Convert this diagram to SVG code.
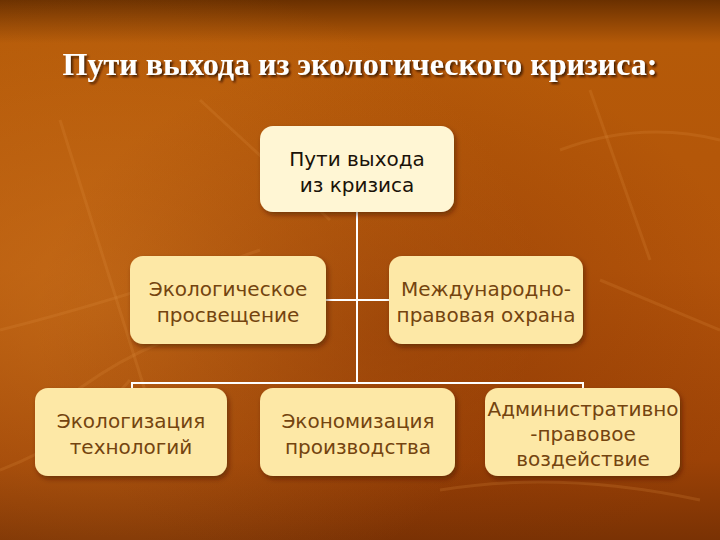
<svg xmlns="http://www.w3.org/2000/svg" width="720" height="540" viewBox="0 0 720 540">
<defs>
<linearGradient id="bgv" x1="0" y1="0" x2="0" y2="1">
<stop offset="0" stop-color="#6a3000"/>
<stop offset="0.08" stop-color="#b55a08"/>
<stop offset="0.5" stop-color="#b3540a"/>
<stop offset="0.85" stop-color="#9c4206"/>
<stop offset="1" stop-color="#7a3204"/>
</linearGradient>
<radialGradient id="glow" cx="0.15" cy="0.55" r="0.6">
<stop offset="0" stop-color="#d07a20" stop-opacity="0.55"/>
<stop offset="1" stop-color="#d07a20" stop-opacity="0"/>
</radialGradient>
<radialGradient id="dark" cx="0.55" cy="0.6" r="0.5">
<stop offset="0" stop-color="#7a2c02" stop-opacity="0.35"/>
<stop offset="1" stop-color="#7a2c02" stop-opacity="0"/>
</radialGradient>
<filter id="sh" x="-10%" y="-10%" width="125%" height="130%">
<feDropShadow dx="2" dy="3" stdDeviation="2.5" flood-color="#3a1500" flood-opacity="0.5"/>
</filter>
<filter id="tsh" x="-5%" y="-20%" width="110%" height="150%">
<feDropShadow dx="2" dy="2" stdDeviation="1" flood-color="#2a0e00" flood-opacity="0.8"/>
</filter>
<style>
.box{fill:#fde8a6;filter:url(#sh)}
.top{fill:#fff6d4;filter:url(#sh)}
.t{font-family:"DejaVu Sans","Noto Sans",sans-serif;font-size:20px;text-anchor:middle;fill:#74440f}
.tt{fill:#1a1208}
.leaf{fill:none;stroke:#e09040;stroke-opacity:0.2;stroke-width:3}
.con{stroke:#ffffff;stroke-width:2;fill:none}
</style>
</defs>
<rect width="720" height="540" fill="url(#bgv)"/>
<rect width="720" height="540" fill="url(#glow)"/>
<rect width="720" height="540" fill="url(#dark)"/>
<g class="leaf">
<path d="M0 330 Q120 300 260 250"/>
<path d="M60 120 L170 470"/>
<path d="M40 420 Q120 350 200 330"/>
<path d="M200 100 L330 220"/>
<path d="M590 90 L650 260"/>
<path d="M560 150 Q640 120 720 140"/>
<path d="M600 280 L720 330"/>
<path d="M0 470 Q80 440 130 380"/>
<path d="M440 490 Q560 470 700 500"/>
</g>
<text x="360" y="75" font-family="'Liberation Serif',serif" font-weight="bold" font-size="32" fill="#ffffff" text-anchor="middle" filter="url(#tsh)">Пути выхода из экологического кризиса:</text>
<g id="connectors">
<path class="con" d="M357 212 V384"/>
<path class="con" d="M326 300 H389"/>
<path class="con" d="M132 388 V383 H583 V388"/>
</g>
<g id="n0">
<rect class="top" x="260" y="126" width="194" height="86" rx="13"/>
<text class="t tt" x="357" y="166">Пути выхода</text>
<text class="t tt" x="357" y="192">из кризиса</text>
</g>
<g id="n1">
<rect class="box" x="130" y="256" width="196" height="88" rx="13"/>
<text class="t" x="228" y="296">Экологическое</text>
<text class="t" x="228" y="322">просвещение</text>
</g>
<g id="n2">
<rect class="box" x="389" y="256" width="194" height="88" rx="13"/>
<text class="t" x="486" y="296">Международно-</text>
<text class="t" x="486" y="322">правовая охрана</text>
</g>
<g id="n3">
<rect class="box" x="35" y="388" width="192" height="88" rx="13"/>
<text class="t" x="131" y="428">Экологизация</text>
<text class="t" x="131" y="454">технологий</text>
</g>
<g id="n4">
<rect class="box" x="260" y="388" width="195" height="88" rx="13"/>
<text class="t" x="358" y="428">Экономизация</text>
<text class="t" x="358" y="454">производства</text>
</g>
<g id="n5">
<rect class="box" x="485" y="388" width="195" height="88" rx="13"/>
<text class="t" x="583" y="416">Административно</text>
<text class="t" x="583" y="441">-правовое</text>
<text class="t" x="583" y="466">воздействие</text>
</g>
</svg>
